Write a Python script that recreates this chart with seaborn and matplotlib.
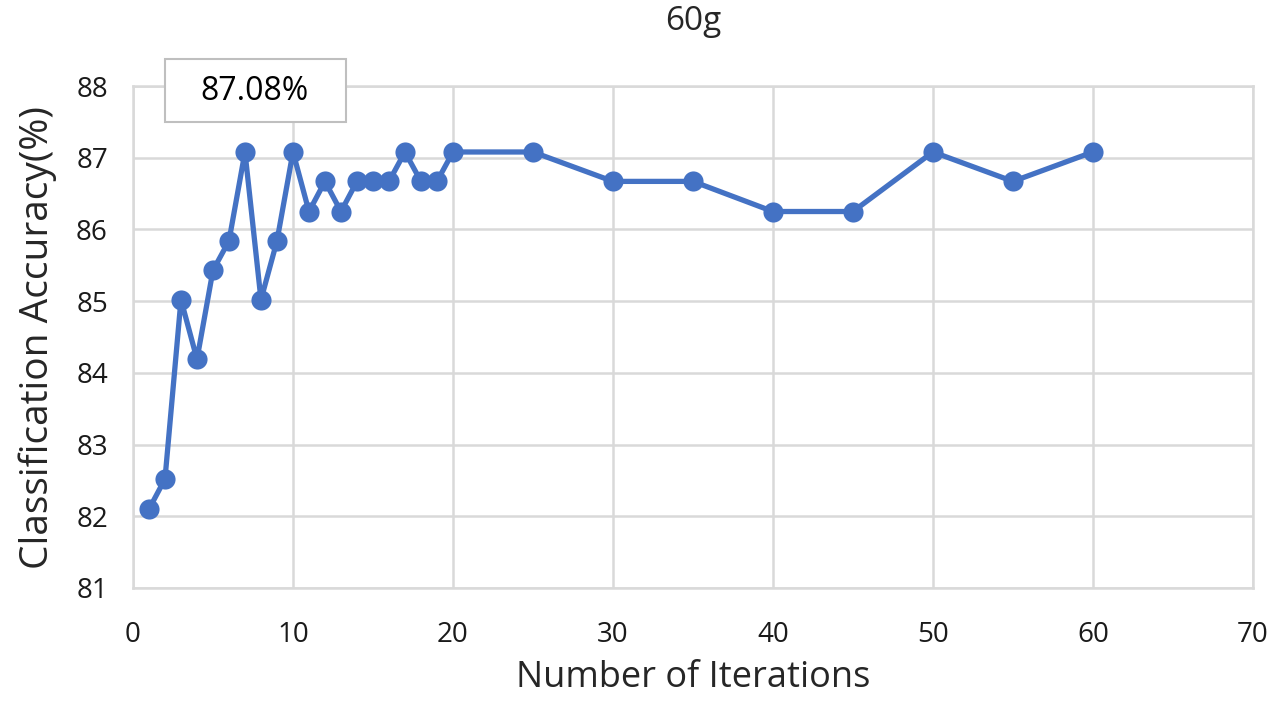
import numpy as np
import pandas as pd
import seaborn as sns
import matplotlib
matplotlib.use('Agg')
import matplotlib.pyplot as plt
from matplotlib.patches import Rectangle

# Values
iterations = [1, 2, 3, 4, 5, 6, 7, 8, 9, 10, 11, 12, 13, 14, 15, 16, 17, 18, 19, 20,
              25, 30, 35, 40, 45, 50, 55, 60]
accuracy = [82.10, 82.52, 85.02, 84.19, 85.43, 85.84, 87.08, 85.02, 85.84, 87.08,
            86.25, 86.67, 86.25, 86.67, 86.67, 86.67, 87.08, 86.67, 86.67, 87.08,
            87.08, 86.67, 86.67, 86.25, 86.25, 87.08, 86.67, 87.08]
x_ticks = [0, 10, 20, 30, 40, 50, 60, 70]
y_ticks = [81, 82, 83, 84, 85, 86, 87, 88]
peak_label = "87.08%"

df = pd.DataFrame({'Iterations': iterations, 'Accuracy': accuracy})

sns.set_style('white')
plt.rcParams['font.family'] = ['Open Sans', 'DejaVu Sans']

fig = plt.figure(figsize=(12.75, 7.01), dpi=100)
ax = fig.add_axes([0.1043, 0.1612, 0.8784, 0.7161])

grid_col = '#d9d9d9'
blue = '#4472C4'
txt_col = '#1a1a1a'

sns.lineplot(data=df, x='Iterations', y='Accuracy', ax=ax, color=blue,
             linewidth=3.8, marker='o', markersize=14.5, markeredgewidth=0,
             zorder=3)

ax.set_xlim(0, 70)
ax.set_ylim(81, 88)
ax.set_xticks(x_ticks)
ax.set_yticks(y_ticks)
ax.grid(True, color=grid_col, linewidth=1.8)
for s in ax.spines.values():
    s.set_color(grid_col)
    s.set_linewidth(1.8)
ax.tick_params(axis='both', length=0, labelsize=20, colors=txt_col)
ax.tick_params(axis='x', pad=24)
ax.tick_params(axis='y', pad=18)

ax.set_xlabel('Number of Iterations', fontsize=26, color='#262626', labelpad=8)
ax.set_ylabel('Classification Accuracy(%)', fontsize=28, color='#262626', labelpad=14)
ax.set_title('60g', fontsize=24, color='#262626', pad=40)

# callout box for the peak value
fig.patches.append(Rectangle((0.1294, 0.826), 0.142, 0.0899, transform=fig.transFigure,
                             facecolor='white', edgecolor='#bfbfbf', linewidth=1.5,
                             zorder=5))
fig.text(0.2, 0.870, peak_label, ha='center', va='center', fontsize=23,
         color='black', zorder=6)

fig.savefig('out.png', dpi=100)
